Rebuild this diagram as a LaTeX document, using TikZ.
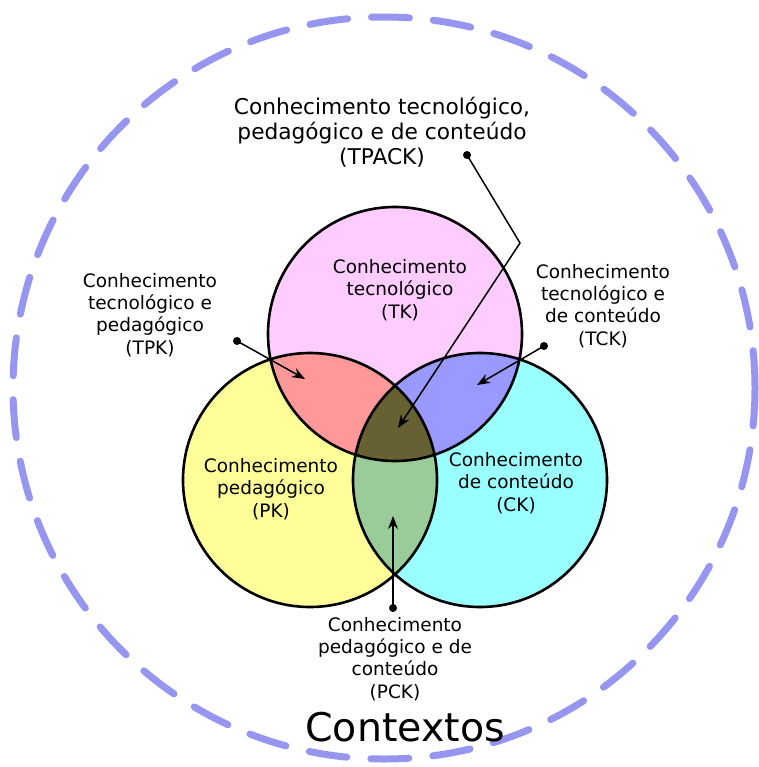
\documentclass[tikz,border=0pt]{standalone}
\usepackage{fontspec}
\setmainfont{DejaVu Sans}
\usetikzlibrary{arrows.meta}
\definecolor{ctxblue}{RGB}{150,150,240}
\definecolor{tkpink}{RGB}{255,204,255}
\definecolor{pkyellow}{RGB}{255,255,153}
\definecolor{ckcyan}{RGB}{153,255,255}
\definecolor{tpkred}{RGB}{255,153,153}
\definecolor{tckblue}{RGB}{153,153,255}
\definecolor{pckgreen}{RGB}{153,204,153}
\definecolor{tpackdark}{RGB}{102,96,51}
\def\tkset{(395,334) circle (127)}
\def\pkset{(310,480) circle (127)}
\def\ckset{(480,480) circle (127)}
\tikzset{ctxline/.style={draw=ctxblue, line width=7pt, dash pattern=on 38pt off 24pt, line cap=round}}
\tikzset{setline/.style={draw=black, line width=2.6pt}}
\tikzset{lbl/.style={align=center, inner sep=0pt, font=\fontsize{18.5pt}{22.3pt}\selectfont}}
\tikzset{dot/.style={circle, fill=black, inner sep=0pt, minimum size=8pt}}
\tikzset{arr/.style={line width=1.5pt, -{Stealth[length=13pt,width=10pt]}}}

\begin{document}
\begin{tikzpicture}[x=1pt,y=-1pt]
  \useasboundingbox (0,0) rectangle (758,767);

  \draw[ctxline] (384,388) circle (371);

  \fill[tkpink] \tkset;
  \fill[pkyellow] \pkset;
  \fill[ckcyan] \ckset;
  \begin{scope}
    \clip \tkset;
    \fill[tpkred] \pkset;
    \fill[tckblue] \ckset;
  \end{scope}
  \begin{scope}
    \clip \pkset;
    \fill[pckgreen] \ckset;
    \clip \ckset;
    \fill[tpackdark] \tkset;
  \end{scope}
  \draw[setline] \tkset \pkset \ckset;

  \node[lbl, font=\fontsize{21.7pt}{25pt}\selectfont] (tpack) at (382,132)
    {Conhecimento tecnológico,\\pedagógico e de conteúdo\\(TPACK)};
  \node[lbl] (tk) at (400,290) {Conhecimento\\tecnológico\\(TK)};
  \node[lbl] (pk) at (271,489) {Conhecimento\\pedagógico\\(PK)};
  \node[lbl] (ck) at (516,483) {Conhecimento\\de conteúdo\\(CK)};
  \node[lbl] (tpk) at (150,315) {Conhecimento\\tecnológico e\\pedagógico\\(TPK)};
  \node[lbl] (tck) at (603,306) {Conhecimento\\tecnológico e\\de conteúdo\\(TCK)};
  \node[lbl] (pck) at (395,659) {Conhecimento\\pedagógico e de\\conteúdo\\(PCK)};
  \node[lbl, font=\fontsize{39.5pt}{44pt}\selectfont] (ctx) at (405,727) {Contextos};

  % pointers
  \node[dot] (tpackdot) at (467,155) {};
  \coordinate (tpackbend) at (520,243);
  \coordinate (tpackend) at (398,428);
  \draw[arr] (tpackdot.center) -- (tpackbend) -- (tpackend);

  \node[dot] (tpkdot) at (237,341) {};
  \coordinate (tpkend) at (305,379);
  \draw[arr] (tpkdot.center) -- (tpkend);

  \node[dot] (tckdot) at (544,346) {};
  \coordinate (tckend) at (477,385);
  \draw[arr] (tckdot.center) -- (tckend);

  \node[dot] (pckdot) at (393,608) {};
  \coordinate (pckend) at (393,516);
  \draw[arr] (pckdot.center) -- (pckend);

\end{tikzpicture}
\end{document}
